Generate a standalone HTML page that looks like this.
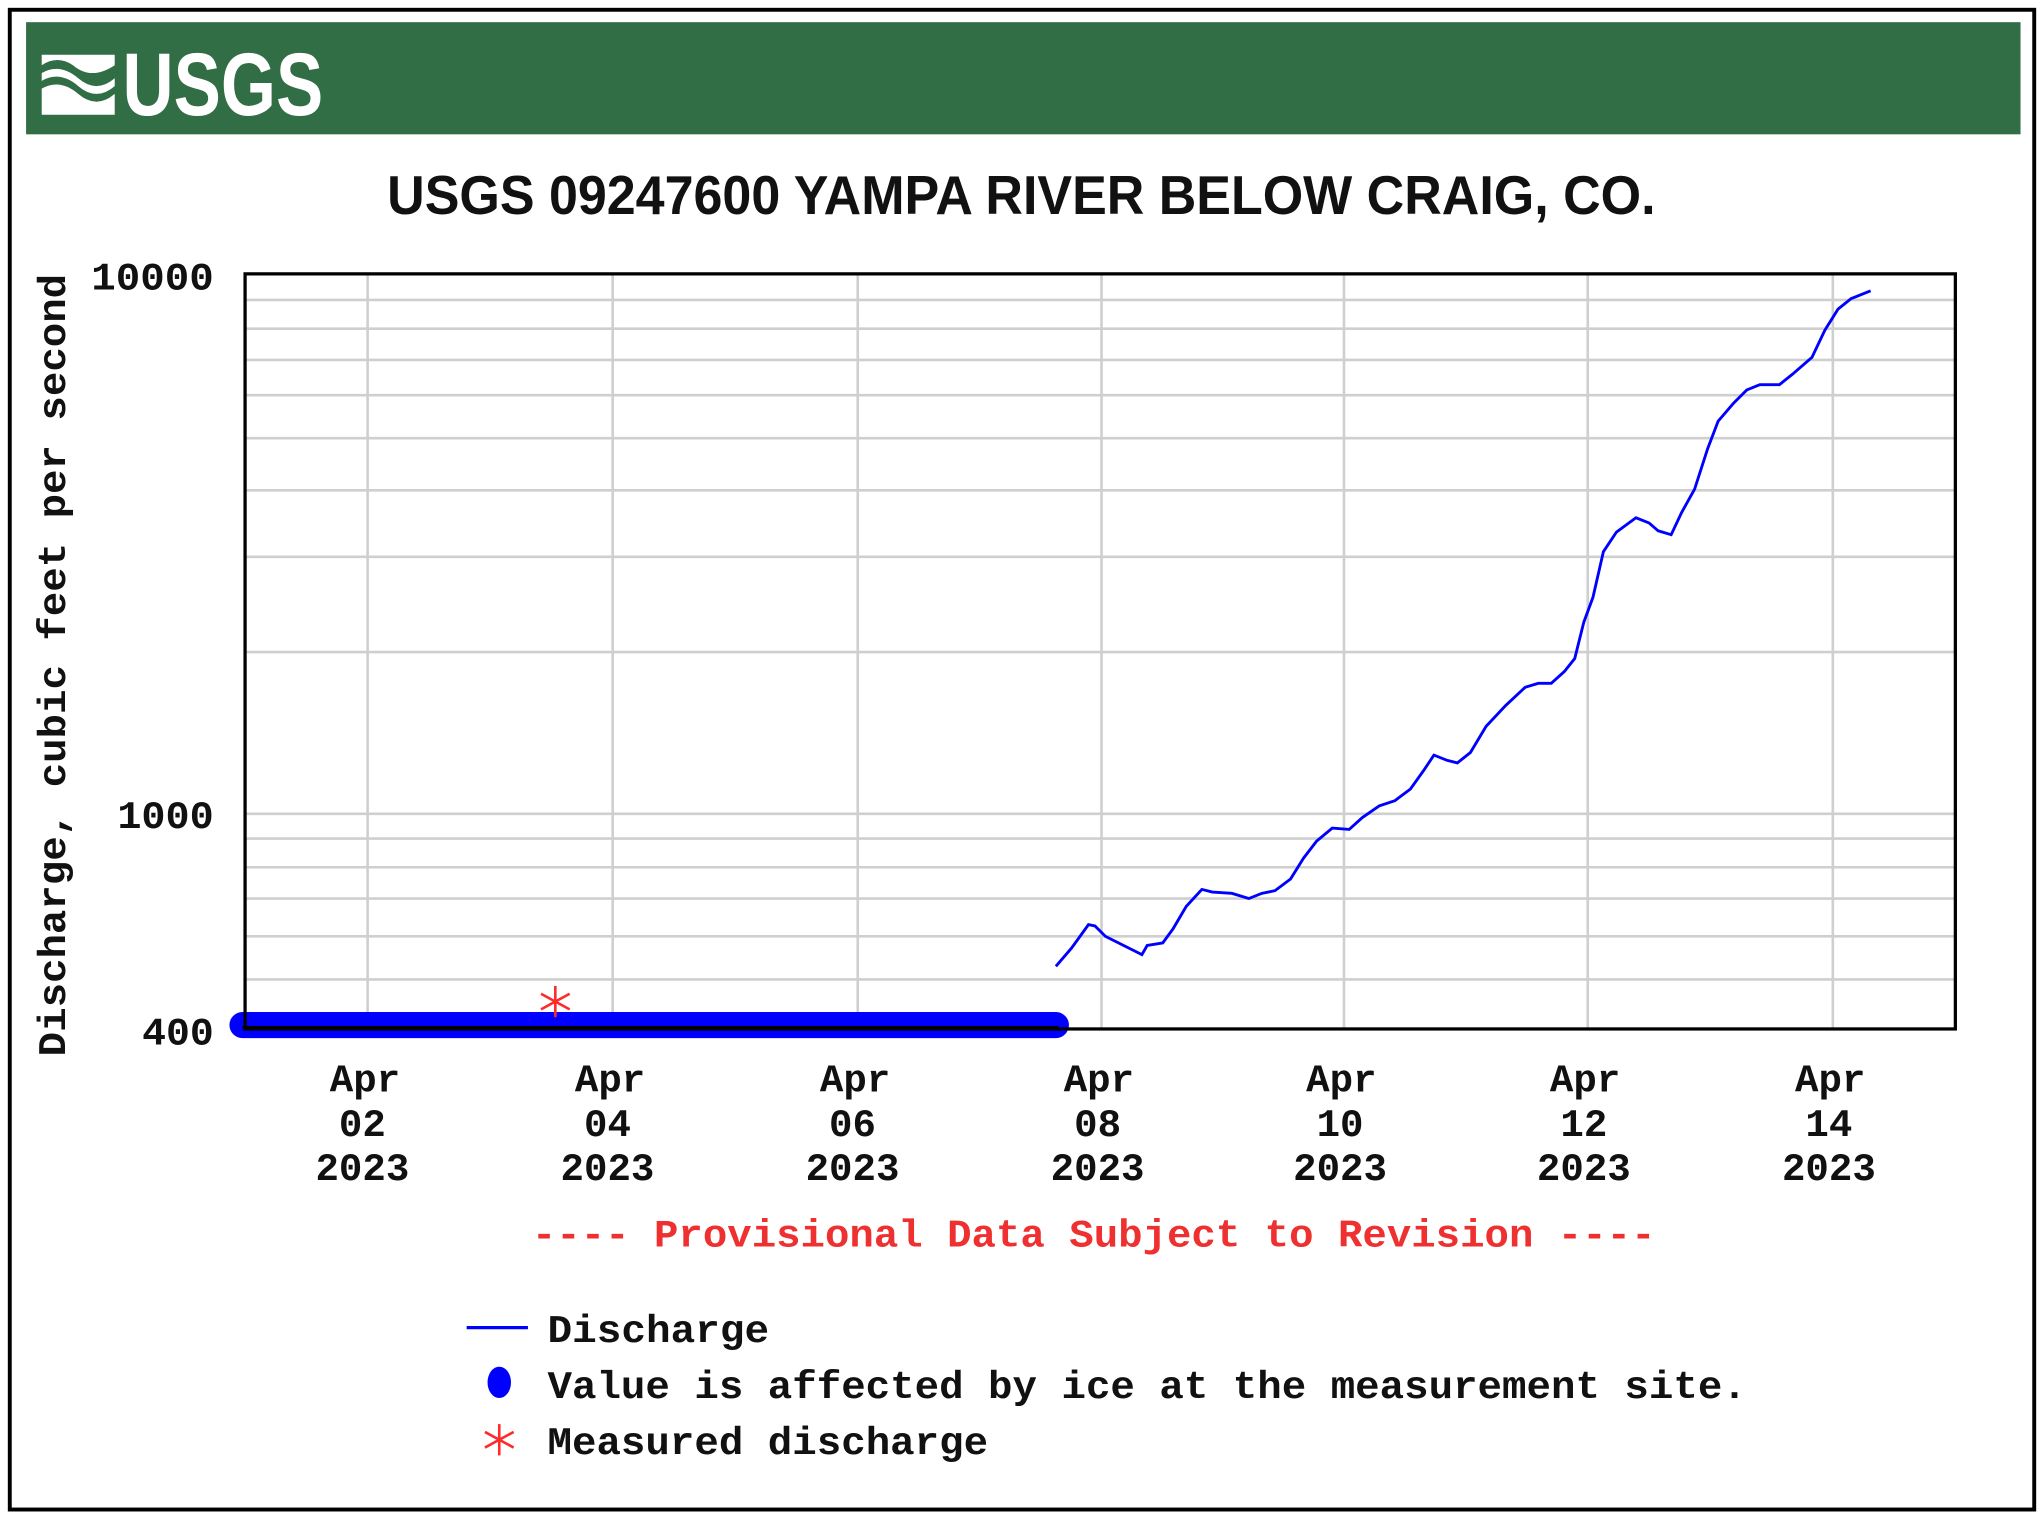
<!DOCTYPE html>
<html><head><meta charset="utf-8"><style>html,body{margin:0;padding:0;background:#fff}svg{display:block}</style></head>
<body>
<svg width="2044" height="1518" viewBox="0 0 1568 1164" preserveAspectRatio="none" xmlns="http://www.w3.org/2000/svg">
<rect x="0" y="0" width="1568" height="1164" fill="#fff"/>
<rect x="7.5" y="7.5" width="1553" height="1150" fill="none" stroke="#000" stroke-width="3"/>
<rect x="20" y="17" width="1530" height="86" fill="#316e45"/>
<g fill="#fff">
<path d="M32 42 L88 42 L88 50 Q70 62 56 50 Q44 42 32 50 Z"/>
<path d="M32 56 Q46 48 60 60 Q74 72 88 60 L88 66 Q74 78 60 66 Q46 54 32 62 Z"/>
<path d="M32 68 Q46 60 60 72 Q74 84 88 72 L88 88 L32 88 Z"/>
</g>
<text x="94" y="88" font-family="Liberation Sans, sans-serif" font-weight="bold" font-size="68" fill="#fff" textLength="154" lengthAdjust="spacingAndGlyphs">USGS</text>
<text x="297" y="164" font-family="Liberation Sans, sans-serif" font-weight="bold" font-size="42" fill="#111" textLength="973" lengthAdjust="spacingAndGlyphs">USGS 09247600 YAMPA RIVER BELOW CRAIG, CO.</text>
<g stroke="#cfcfcf" stroke-width="2">
<line x1="188" y1="751" x2="1500" y2="751"/><line x1="188" y1="718" x2="1500" y2="718"/>
<line x1="188" y1="689" x2="1500" y2="689"/><line x1="188" y1="665" x2="1500" y2="665"/>
<line x1="188" y1="643" x2="1500" y2="643"/><line x1="188" y1="624" x2="1500" y2="624"/>
<line x1="188" y1="500" x2="1500" y2="500"/><line x1="188" y1="427" x2="1500" y2="427"/>
<line x1="188" y1="376" x2="1500" y2="376"/><line x1="188" y1="336" x2="1500" y2="336"/>
<line x1="188" y1="303" x2="1500" y2="303"/><line x1="188" y1="276" x2="1500" y2="276"/>
<line x1="188" y1="252" x2="1500" y2="252"/><line x1="188" y1="230" x2="1500" y2="230"/>
<line x1="282" y1="210" x2="282" y2="789"/><line x1="470" y1="210" x2="470" y2="789"/>
<line x1="658" y1="210" x2="658" y2="789"/><line x1="845" y1="210" x2="845" y2="789"/>
<line x1="1031" y1="210" x2="1031" y2="789"/><line x1="1218" y1="210" x2="1218" y2="789"/>
<line x1="1406" y1="210" x2="1406" y2="789"/>
</g>
<line x1="186" y1="786" x2="810" y2="786" stroke="#0000ff" stroke-width="20" stroke-linecap="round"/>
<rect x="188" y="210" width="1312" height="579" fill="none" stroke="#000" stroke-width="2.5"/>
<line x1="186" y1="788" x2="812" y2="788" stroke="#000" stroke-width="2.5"/>
<g stroke="#ff2a2a" stroke-width="2"><line x1="426" y1="756" x2="426" y2="780"/><line x1="415" y1="762" x2="437" y2="774"/><line x1="415" y1="774" x2="437" y2="762"/></g>
<polyline fill="none" stroke="#0000ff" stroke-width="2.2" points="810,741 822,727 835,709 840,710 848,718 862,725 876,732 880,725 892,723 900,712 910,695 922,682 930,684 945,685 958,689 968,685 978,683 990,674 1000,658 1010,645 1022,635 1035,636 1045,627 1058,618 1070,614 1082,605 1092,591 1100,579 1110,583 1118,585 1128,577 1140,557 1155,541 1170,527 1180,524 1190,524 1200,515 1208,505 1215,477 1222,458 1230,423 1240,408 1255,397 1265,401 1272,407 1282,410 1290,393 1300,375 1310,344 1318,323 1330,309 1340,299 1350,295 1365,295 1375,287 1390,274 1400,253 1410,237 1420,229 1435,223"/>
<g font-family="Liberation Mono, monospace" font-weight="bold" font-size="30" fill="#111">
<text x="70" y="222" textLength="94" lengthAdjust="spacingAndGlyphs">10000</text>
<text x="90" y="635" textLength="74" lengthAdjust="spacingAndGlyphs">1000</text>
<text x="109" y="801" textLength="55" lengthAdjust="spacingAndGlyphs">400</text>
<text transform="translate(50,810) rotate(-90)" x="0" y="0" textLength="600" lengthAdjust="spacingAndGlyphs">Discharge, cubic feet per second</text>
<g text-anchor="middle">
<text x="280" y="837">Apr</text><text x="278" y="871">02</text><text x="278" y="905">2023</text>
<text x="468" y="837">Apr</text><text x="466" y="871">04</text><text x="466" y="905">2023</text>
<text x="656" y="837">Apr</text><text x="654" y="871">06</text><text x="654" y="905">2023</text>
<text x="843" y="837">Apr</text><text x="842" y="871">08</text><text x="842" y="905">2023</text>
<text x="1029" y="837">Apr</text><text x="1028" y="871">10</text><text x="1028" y="905">2023</text>
<text x="1216" y="837">Apr</text><text x="1215" y="871">12</text><text x="1215" y="905">2023</text>
<text x="1404" y="837">Apr</text><text x="1403" y="871">14</text><text x="1403" y="905">2023</text>
</g>
<text x="408" y="956" fill="#ee3030" textLength="862" lengthAdjust="spacingAndGlyphs">---- Provisional Data Subject to Revision ----</text>
<text x="420" y="1029" textLength="170" lengthAdjust="spacingAndGlyphs">Discharge</text>
<text x="420" y="1072" textLength="920" lengthAdjust="spacingAndGlyphs">Value is affected by ice at the measurement site.</text>
<text x="420" y="1115" textLength="338" lengthAdjust="spacingAndGlyphs">Measured discharge</text>
</g>
<line x1="358" y1="1018" x2="405" y2="1018" stroke="#0000ff" stroke-width="2.5"/>
<ellipse cx="383" cy="1060" rx="9" ry="12" fill="#0000ff"/>
<g stroke="#ff2a2a" stroke-width="2"><line x1="383" y1="1092" x2="383" y2="1116"/><line x1="372" y1="1098" x2="394" y2="1110"/><line x1="372" y1="1110" x2="394" y2="1098"/></g>
</svg>
</body></html>
